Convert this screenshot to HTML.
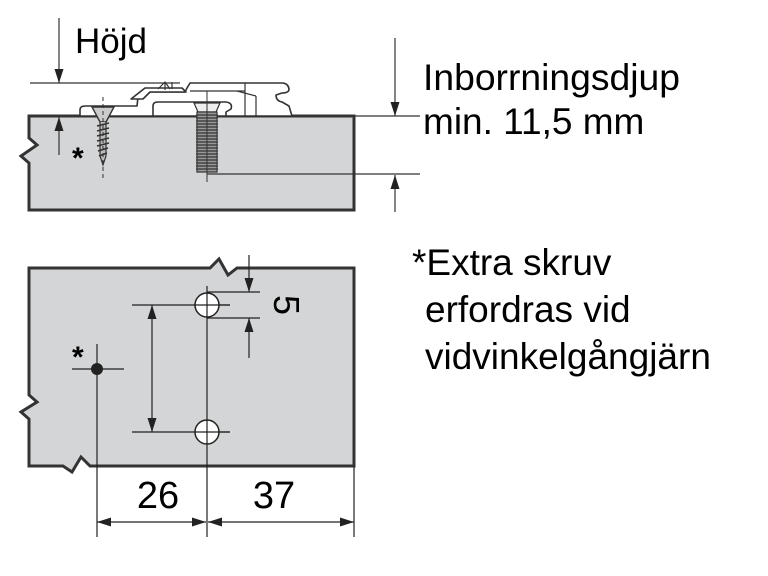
<!DOCTYPE html>
<html><head><meta charset="utf-8"><style>
html,body{margin:0;padding:0;background:#fff;width:768px;height:576px;overflow:hidden}
svg{display:block}
text{font-family:"Liberation Sans",Arial,sans-serif;fill:#000}
</style></head><body>
<svg width="768" height="576" viewBox="0 0 768 576" xmlns="http://www.w3.org/2000/svg">
<defs>
<marker id="a" viewBox="0 0 10 10" refX="10" refY="5" markerWidth="14" markerHeight="10" markerUnits="userSpaceOnUse" orient="auto-start-reverse" preserveAspectRatio="none"><path d="M0,0.5 L10,5 L0,9.5 z" fill="#222"/></marker>
</defs>
<!-- top board -->
<path d="M29,116 L354,116 L354,210 L29,210 L29,163 L21,156 L37,145 L29,138 Z" fill="#d4d5d6" stroke="#333" stroke-width="3"/>
<!-- hinge plate -->
<g fill="#fff" stroke="#333" stroke-width="1.6" stroke-linejoin="round">
<path d="M80,116 L80,110 Q80,106 85,106 L137,106 L138,97 Q142,92 150,92 L185,92 L187,88 L190,83 L283,83 Q289,84 289,90 Q288,93 282,93 L276,95 Q276,101 282,102 L289,106 L292,116 Z"/>
<path d="M153,116 L153,106 Q153,102 158,102 L226,102 Q233,103 231,109 L226,112 L226,116 Z"/>
<path d="M131,99 L145,88 L182,88 L186,92 L150,92 L143,99 Z"/>
</g>
<g stroke="#333" stroke-width="1.2" fill="none">
<line x1="190" y1="91" x2="245" y2="91"/>
<line x1="245" y1="83" x2="245" y2="116"/>
<line x1="237" y1="91" x2="256" y2="96"/><line x1="256" y1="96" x2="256" y2="116"/>
<path d="M158,89 L165,82 L170,89 M165,82 L165,90 M172,82 L172,89"/>
</g>
<!-- wood screw -->
<g stroke="#333" fill="none">
<path d="M92,107 L114,107 L106,122 L100,122 Z" fill="#ccc" stroke-width="1.4"/>
<path d="M100,122 L100,156 L103,165 L106,156 L106,122" fill="#bbb" stroke-width="1.2"/>
<path d="M97,126 L109,123 M97,131 L109,128 M97,136 L109,133 M97,141 L109,138 M97,146 L109,143 M98,151 L108,148 M99,156 L107,153" stroke-width="1.6"/>
<line x1="103" y1="97" x2="103" y2="180" stroke-width="1" stroke-dasharray="4,3"/>
</g>
<!-- machine screw -->
<g stroke="#333" fill="none">
<path d="M194,103 L220,103 L216,112 L198,112 Z" fill="#eee" stroke-width="1.2"/>
<rect x="197" y="112" width="20" height="60" fill="#999" stroke-width="1.2"/>
<path d="M196,115h22M196,118h22M196,121h22M196,124h22M196,127h22M196,130h22M196,133h22M196,136h22M196,139h22M196,142h22M196,145h22M196,148h22M196,151h22M196,154h22M196,157h22M196,160h22M196,163h22M196,166h22M196,169h22" stroke="#444" stroke-width="1.6"/>
<line x1="207" y1="91" x2="207" y2="182" stroke-width="1"/>
</g>
<!-- dims top -->
<g stroke="#333" stroke-width="1.2" fill="none">
<line x1="30" y1="83" x2="180" y2="83"/>
<line x1="59" y1="18" x2="59" y2="83" marker-end="url(#a)"/>
<line x1="59" y1="155" x2="59" y2="117" marker-end="url(#a)"/>
<line x1="354" y1="116" x2="420" y2="116"/>
<line x1="207" y1="174" x2="420" y2="174"/>
<line x1="395" y1="38" x2="395" y2="116" marker-end="url(#a)"/>
<line x1="395" y1="212" x2="395" y2="175" marker-end="url(#a)"/>
</g>
<text x="75" y="53" font-size="35">Höjd</text>
<text x="72" y="168" font-size="30" font-weight="bold">*</text>
<!-- bottom board -->
<path d="M29,268 L210,268 L219,259 L228,275 L237,268 L354,268 L354,466 L90,466 L81,457 L72,472 L63,466 L29,466 L29,419 L21,412 L37,402 L29,395 Z" fill="#d4d5d6" stroke="#333" stroke-width="3"/>
<g stroke="#222" stroke-width="1.2" fill="none">
<line x1="132" y1="305" x2="230" y2="305"/>
<line x1="132" y1="432" x2="230" y2="432"/>
<line x1="207" y1="286" x2="207" y2="537"/>
<line x1="207" y1="292" x2="260" y2="292"/>
<line x1="207" y1="318" x2="260" y2="318"/>
<line x1="249" y1="255" x2="249" y2="292" marker-end="url(#a)"/>
<line x1="249" y1="358" x2="249" y2="318" marker-end="url(#a)"/>
<line x1="152" y1="305" x2="152" y2="432" marker-start="url(#a)" marker-end="url(#a)"/>
<line x1="72" y1="369" x2="124" y2="369"/>
<line x1="97" y1="344" x2="97" y2="537"/>
<line x1="354" y1="466" x2="354" y2="537"/>
<line x1="97" y1="522" x2="206" y2="522" marker-start="url(#a)" marker-end="url(#a)"/>
<line x1="208" y1="522" x2="354" y2="522" marker-start="url(#a)" marker-end="url(#a)"/>
</g>
<circle cx="207" cy="305" r="12" fill="#fff" stroke="#222" stroke-width="1.5"/>
<circle cx="207" cy="432" r="12" fill="#fff" stroke="#222" stroke-width="1.5"/>
<g stroke="#222" stroke-width="1.2"><line x1="195" y1="305" x2="230" y2="305"/><line x1="207" y1="293" x2="207" y2="317"/><line x1="195" y1="432" x2="230" y2="432"/><line x1="207" y1="420" x2="207" y2="444"/></g>
<circle cx="97" cy="369" r="6" fill="#222"/>
<text x="72" y="367" font-size="30" font-weight="bold">*</text>
<text x="0" y="0" font-size="36" transform="translate(274,305) rotate(90)" text-anchor="middle">5</text>
<text x="158" y="508" font-size="38" text-anchor="middle">26</text>
<text x="274" y="508" font-size="38" text-anchor="middle">37</text>
<!-- right text -->
<text x="423" y="90" font-size="37" textLength="257" lengthAdjust="spacingAndGlyphs">Inborrningsdjup</text>
<text x="423" y="134" font-size="37">min. 11,5 mm</text>
<text x="412" y="275" font-size="37">*Extra skruv</text>
<text x="425" y="322" font-size="37">erfordras vid</text>
<text x="425" y="369" font-size="37">vidvinkelgångjärn</text>
</svg>
</body></html>
